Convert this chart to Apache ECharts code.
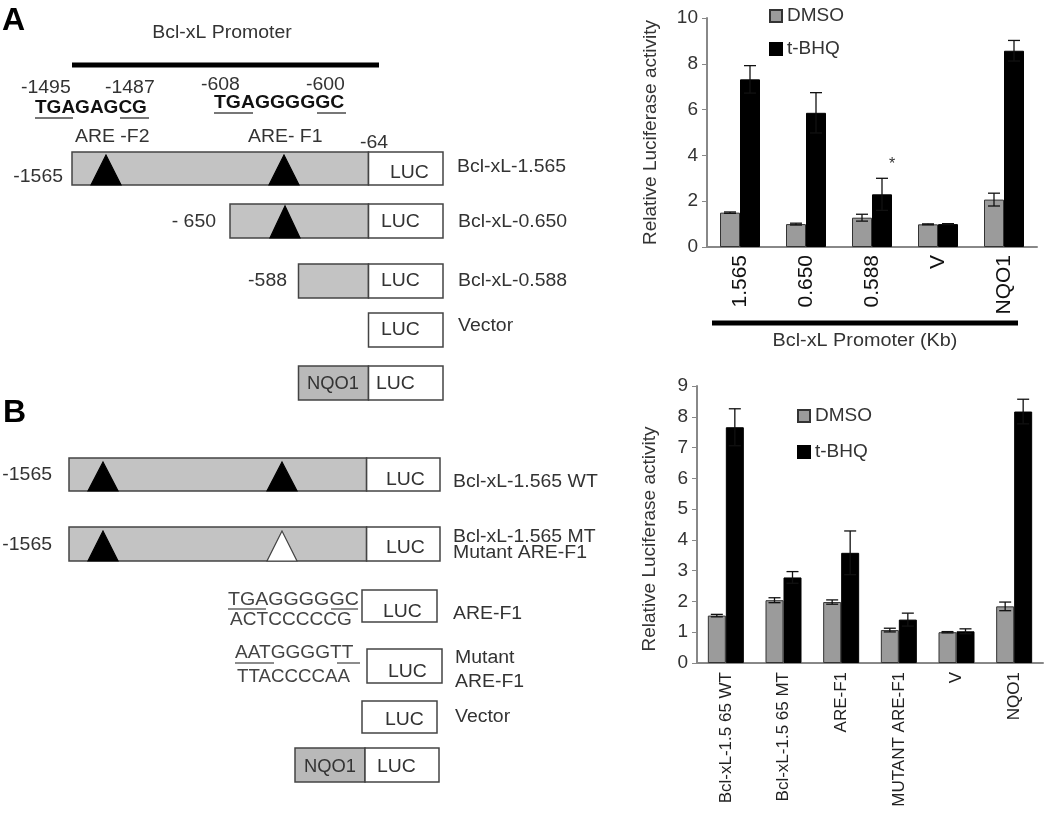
<!DOCTYPE html>
<html><head><meta charset="utf-8">
<script src="https://cdn.jsdelivr.net/npm/echarts@6/dist/echarts.min.js"></script>
<style>html,body{margin:0;padding:0;background:#fff}#c{width:1050px;height:828px}</style>
</head><body><div id="c"></div>
<script>
// ---------- data ----------
var catsA = ['1.565', '0.650', '0.588', 'V', 'NQO1'];
var dmsoA = [1.50, 1.00, 1.28, 0.99, 2.07];
var dmsoErrA = [0.03, 0.04, 0.15, 0.02, 0.28];
var tbhqA = [7.32, 5.86, 2.30, 1.00, 8.57];
var tbhqErrA = [0.60, 0.88, 0.70, 0.02, 0.45];

var catsB = ['Bcl-xL-1.5 65 WT', 'Bcl-xL-1.5 65 MT', 'ARE-F1', 'MUTANT ARE-F1', 'V', 'NQO1'];
var dmsoB = [1.54, 2.04, 1.98, 1.07, 1.00, 1.84];
var dmsoErrB = [0.04, 0.08, 0.07, 0.06, 0.02, 0.14];
var tbhqB = [7.66, 2.78, 3.58, 1.41, 1.03, 8.17];
var tbhqErrB = [0.60, 0.19, 0.71, 0.21, 0.08, 0.40];

var ticksA = {min: 0, max: 10, interval: 2};
var ticksB = {min: 0, max: 9, interval: 1};
var seriesNames = ['DMSO', 't-BHQ'];
var yName = 'Relative Luciferase activity';

// ---------- styles ----------
var FF = 'Liberation Sans, Arial, sans-serif';
var GREY = '#9b9b9b', BLACK = '#000';
var AX = '#888';

function errData(vals, errs) { return vals.map(function (v, i) { return [i, v, errs[i]]; }); }
function errRender(sign, bw) {
  return function (params, api) {
    var i = api.value(0), v = api.value(1), e = api.value(2);
    var t = api.coord([i, v + e]), b = api.coord([i, v - e]);
    var cx = t[0] + sign * bw / 2, cap = 6;
    var st = {stroke: '#111', lineWidth: 1.3};
    return {type: 'group', children: [
      {type: 'line', shape: {x1: cx, y1: t[1], x2: cx, y2: b[1]}, style: st},
      {type: 'line', shape: {x1: cx - cap, y1: t[1], x2: cx + cap, y2: t[1]}, style: st},
      {type: 'line', shape: {x1: cx - cap, y1: b[1], x2: cx + cap, y2: b[1]}, style: st}
    ]};
  };
}

// ---------- schematic helpers ----------
var G = [];
function T(x, y, text, o) {
  o = o || {};
  G.push({type: 'text', x: x, y: y, z: 10, scaleX: o.sx || 1.08, style: {text: text, fill: o.fill || '#333',
    font: (o.bold ? 'bold ' : '') + (o.size || 18) + 'px ' + FF,
    textAlign: o.align || 'left', textVerticalAlign: 'middle'}});
}
function R(x, y, w, h, fill) {
  G.push({type: 'rect', shape: {x: x, y: y, width: w, height: h}, z: 5,
    style: {fill: fill, stroke: '#444', lineWidth: 1.5}});
}
function L(x1, y1, x2, y2, w, c) {
  G.push({type: 'line', shape: {x1: x1, y1: y1, x2: x2, y2: y2}, z: 6, style: {stroke: c, lineWidth: w}});
}
function Tri(cx, yTop, yBot, hw, fill) {
  G.push({type: 'polygon', shape: {points: [[cx, yTop], [cx - hw, yBot], [cx + hw, yBot]]}, z: 7,
    style: {fill: fill, stroke: fill === '#fff' ? '#444' : '#000', lineWidth: 1.2}});
}
var BOXG = '#c3c3c3';

// Panel A
T(2, 21, 'A', {bold: true, size: 32, fill: '#000', sx: 1});
T(222, 33, 'Bcl-xL Promoter', {align: 'center'});
L(72, 65, 379, 65, 5, '#000');
T(21, 88, '-1495'); T(105, 88, '-1487'); T(201, 85, '-608'); T(306, 85, '-600');
T(35, 108, 'TGAGAGCG', {bold: true, fill: '#111', size: 19, sx: 1});
L(35, 118, 73, 118, 2, '#777'); L(120, 118, 149, 118, 2, '#777');
T(214, 103, 'TGAGGGGGC', {bold: true, fill: '#111', size: 19, sx: 1.02});
L(214, 113, 253, 113, 2, '#777'); L(317, 113, 346, 113, 2, '#777');
T(75, 137, 'ARE -F2'); T(248, 137, 'ARE- F1'); T(360, 143, '-64');

R(72, 152, 296.5, 33, BOXG); R(368.5, 152, 74.5, 33, '#fff');
Tri(106, 155, 185, 15, '#000'); Tri(284, 155, 185, 15, '#000');
T(390, 173, 'LUC'); T(457, 167, 'Bcl-xL-1.565'); T(63, 177, '-1565', {align: 'right'});

R(230, 204, 138.5, 34, BOXG); R(368.5, 204, 74.5, 34, '#fff');
Tri(285, 206, 238, 15, '#000');
T(381, 222, 'LUC'); T(458, 222, 'Bcl-xL-0.650'); T(216, 222, '- 650', {align: 'right'});

R(298.5, 264, 70, 34, BOXG); R(368.5, 264, 74.5, 34, '#fff');
T(381, 281, 'LUC'); T(458, 281, 'Bcl-xL-0.588'); T(287, 281, '-588', {align: 'right'});

R(368.5, 313, 74.5, 34, '#fff');
T(381, 330, 'LUC'); T(458, 326, 'Vector');

R(298.5, 366, 70, 34, '#b9b9b9'); R(368.5, 366, 74.5, 34, '#fff');
T(307, 384, 'NQO1', {sx: 1.02}); T(376, 384, 'LUC');

// Panel B
T(3, 413, 'B', {bold: true, size: 32, fill: '#000', sx: 1});
R(69, 458, 297.6, 33, BOXG); R(366.6, 458, 73.4, 33, '#fff');
Tri(103, 462, 491, 15, '#000'); Tri(282, 462, 491, 15, '#000');
T(386, 480, 'LUC'); T(453, 482, 'Bcl-xL-1.565 WT'); T(52, 475, '-1565', {align: 'right'});

R(69, 527, 297.6, 34, BOXG); R(366.6, 527, 73.4, 34, '#fff');
Tri(103, 531, 561, 15, '#000'); Tri(282, 531, 561, 15, '#fff');
T(386, 548, 'LUC'); T(453, 537, 'Bcl-xL-1.565 MT'); T(453, 553, 'Mutant ARE-F1'); T(52, 545, '-1565', {align: 'right'});

R(362, 590, 75, 32, '#fff');
T(383, 612, 'LUC'); T(453, 614, 'ARE-F1');
T(228, 600, 'TGAGGGGGC', {fill: '#444', sx: 1.09}); T(230, 620, 'ACTCCCCCG', {fill: '#444', sx: 1.06});
L(228, 609, 266, 609, 1.5, '#666'); L(331, 609, 358, 609, 1.5, '#666');

R(367, 649, 75, 34, '#fff');
T(388, 672, 'LUC'); T(455, 658, 'Mutant'); T(455, 682, 'ARE-F1');
T(235, 653, 'AATGGGGTT', {fill: '#444', sx: 1.06}); T(237, 677, 'TTACCCCAA', {fill: '#444', sx: 1.04});
L(235, 663, 274, 663, 1.5, '#666'); L(337, 663, 360, 663, 1.5, '#666');

R(362, 701, 75, 32, '#fff');
T(385, 720, 'LUC'); T(455, 717, 'Vector');

R(295, 748, 70, 34, '#b9b9b9'); R(365, 748, 74, 34, '#fff');
T(304, 767, 'NQO1', {sx: 1.02}); T(377, 767, 'LUC');

// chart A annotations
L(712, 323, 1018, 323, 5, '#000');
T(865, 341, 'Bcl-xL Promoter (Kb)', {align: 'center', sx: 1.1});
// chart B y-axis name
G.push({type: 'text', x: 650, y: 539, rotation: Math.PI / 2, z: 10,
  style: {text: yName, fill: '#333', font: '19px ' + FF, textAlign: 'center', textVerticalAlign: 'middle'}});

// ---------- chart ----------
var chart = echarts.init(document.getElementById('c'), null, {renderer: 'canvas'});
var axisLineStyle = {lineStyle: {color: AX, width: 2}};
var BWA = 20, BWB = 18;
var option = {
  animation: false,
  backgroundColor: '#fff',
  textStyle: {fontFamily: FF},
  grid: [
    {left: 707, right: 13, top: 18, bottom: 581, containLabel: false},
    {left: 697, right: 7, top: 386, bottom: 165, containLabel: false}
  ],
  legend: [
    {data: seriesNames, orient: 'vertical', left: 764, top: 1, icon: 'rect', itemWidth: 12, itemHeight: 12,
      itemGap: 13, textStyle: {fontSize: 19, color: '#333', lineHeight: 20}},
    {data: seriesNames, orient: 'vertical', left: 792, top: 401, icon: 'rect', itemWidth: 12, itemHeight: 12,
      itemGap: 16, textStyle: {fontSize: 19, color: '#333', lineHeight: 20}}
  ],
  xAxis: [
    {type: 'category', gridIndex: 0, data: catsA, axisLine: axisLineStyle, axisTick: {show: false},
      axisLabel: {rotate: 90, interval: 0, fontSize: 21, color: '#111', margin: 8}},
    {type: 'category', gridIndex: 1, data: catsB, axisLine: axisLineStyle, axisTick: {show: false},
      axisLabel: {rotate: 90, interval: 0, fontSize: 17, color: '#222', margin: 9}}
  ],
  yAxis: [
    {type: 'value', gridIndex: 0, min: ticksA.min, max: ticksA.max, interval: ticksA.interval,
      axisLine: {show: true, lineStyle: {color: AX, width: 2}}, axisTick: {show: true, length: 5, lineStyle: {color: AX}},
      splitLine: {show: false}, axisLabel: {fontSize: 19, color: '#333', margin: 9},
      name: yName, nameLocation: 'middle', nameGap: 47, nameRotate: 90,
      nameTextStyle: {fontSize: 19, color: '#333'}},
    {type: 'value', gridIndex: 1, min: ticksB.min, max: ticksB.max, interval: ticksB.interval,
      axisLine: {show: true, lineStyle: {color: AX, width: 2}}, axisTick: {show: true, length: 5, lineStyle: {color: AX}},
      splitLine: {show: false}, axisLabel: {fontSize: 19, color: '#333', margin: 9}}
  ],
  series: [
    {name: 'DMSO', type: 'bar', xAxisIndex: 0, yAxisIndex: 0, data: dmsoA, barWidth: BWA, barGap: '0%',
      itemStyle: {color: GREY, borderColor: '#333', borderWidth: 1}},
    {name: 't-BHQ', type: 'bar', xAxisIndex: 0, yAxisIndex: 0, data: tbhqA, barWidth: BWA, barGap: '0%',
      itemStyle: {color: BLACK, borderColor: '#000', borderWidth: 1},
      markPoint: {symbol: 'circle', symbolSize: 1, itemStyle: {color: 'rgba(0,0,0,0)'},
        data: [{coord: ['0.588', 3.62], label: {show: true, formatter: '*', offset: [BWA / 2, 0], fontSize: 16, color: '#333'}}]}},
    {type: 'custom', xAxisIndex: 0, yAxisIndex: 0, z: 5, renderItem: errRender(-1, BWA), data: errData(dmsoA, dmsoErrA), encode: {x: 0, y: 1}},
    {type: 'custom', xAxisIndex: 0, yAxisIndex: 0, z: 5, renderItem: errRender(1, BWA), data: errData(tbhqA, tbhqErrA), encode: {x: 0, y: 1}},

    {name: 'DMSO', type: 'bar', xAxisIndex: 1, yAxisIndex: 1, data: dmsoB, barWidth: BWB, barGap: '0%',
      itemStyle: {color: GREY, borderColor: '#333', borderWidth: 1}},
    {name: 't-BHQ', type: 'bar', xAxisIndex: 1, yAxisIndex: 1, data: tbhqB, barWidth: BWB, barGap: '0%',
      itemStyle: {color: BLACK, borderColor: '#000', borderWidth: 1}},
    {type: 'custom', xAxisIndex: 1, yAxisIndex: 1, z: 5, renderItem: errRender(-1, BWB), data: errData(dmsoB, dmsoErrB), encode: {x: 0, y: 1}},
    {type: 'custom', xAxisIndex: 1, yAxisIndex: 1, z: 5, renderItem: errRender(1, BWB), data: errData(tbhqB, tbhqErrB), encode: {x: 0, y: 1}}
  ],
  graphic: G
};
chart.setOption(option);
</script></body></html>
